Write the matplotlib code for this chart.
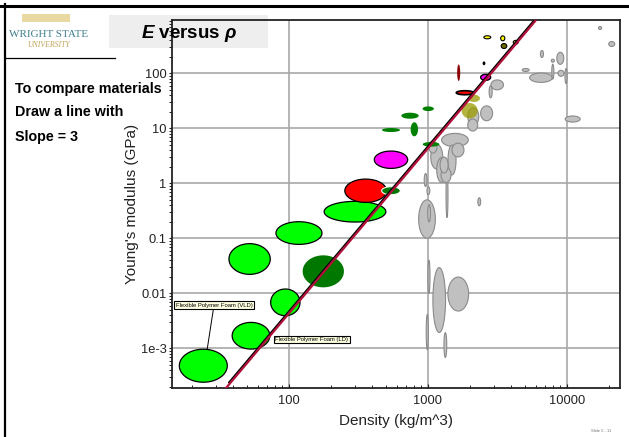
import numpy as np
import matplotlib
matplotlib.use("Agg")
import matplotlib.pyplot as plt
from matplotlib.patches import Rectangle

plt.rcParams['font.family'] = ['Liberation Sans', 'DejaVu Sans']
plt.rcParams['mathtext.fontset'] = 'custom'
plt.rcParams['mathtext.it'] = 'Liberation Sans:italic:bold'
plt.rcParams['mathtext.rm'] = 'Liberation Sans:bold'

# material bubbles: log10 density (kg/m^3), log10 modulus (GPa), span in decades
foam_x = [1.386, 1.729, 1.976, 1.719, 2.074, 2.477]
foam_y = [-3.316, -2.771, -2.164, -1.376, -0.904, -0.516]
foam_w = [0.345, 0.271, 0.211, 0.297, 0.331, 0.444]
foam_h = [0.60, 0.485, 0.485, 0.558, 0.412, 0.376]

rigid_foam = (2.249, -1.60, 0.297, 0.582)
elastomer_red = (2.554, -0.135, 0.30, 0.424)
polymer_mag = (2.736, 0.429, 0.24, 0.315)
cork_small = (2.736, -0.135, 0.134, 0.145)

wood_x = [2.736, 2.904, 3.024, 2.873, 3.004]
wood_y = [0.969, 0.982, 0.709, 1.229, 1.356]
wood_w = [0.13, 0.053, 0.12, 0.125, 0.081]
wood_h = [0.073, 0.255, 0.085, 0.109, 0.085]

darkred_bar = (3.223, 2.011, 0.022, 0.30)
red_thin = (3.268, 1.647, 0.125, 0.073)
mag_small = (3.417, 1.927, 0.072, 0.109)

olive_x = [3.333, 3.302]
olive_y = [1.545, 1.32]
olive_w = [0.086, 0.115]
olive_h = [0.133, 0.28]

yellow_x = [3.429, 3.54, 3.633]
yellow_y = [2.655, 2.636, 2.564]
yellow_w = [0.05, 0.03, 0.035]
yellow_h = [0.055, 0.09, 0.07]
dark_olive = (3.549, 2.496, 0.04, 0.09)
black_dot = (3.405, 2.182, 0.02, 0.07)

grey_x = [3.083, 3.22, 3.009, 2.997, 3.127, 2.995, 3.01, 2.985, 3.005, 3.139,
          3.371, 3.196, 3.065, 3.101, 3.175, 3.132, 3.218, 3.038, 3.118,
          3.328, 3.424, 3.324, 3.50, 3.453, 3.815, 3.705, 3.822, 3.954,
          3.90, 3.90, 3.959, 3.995, 4.043, 4.24, 4.324]
grey_y = [-2.122, -2.013, -1.698, -2.704, -2.94, -0.649, -0.545, 0.06, -0.135, -0.213,
          -0.335, 0.787, 0.484, 0.242, 0.424, 0.151, 0.605, 0.66, 0.333,
          1.211, 1.273, 1.06, 1.79, 1.665, 1.92, 2.06, 2.351, 2.273,
          2.229, 2.03, 2.0, 1.95, 1.169, 2.824, 2.533]
grey_w = [0.091, 0.149, 0.015, 0.015, 0.02, 0.12, 0.02, 0.02, 0.02, 0.014,
          0.02, 0.192, 0.086, 0.072, 0.058, 0.072, 0.086, 0.058, 0.058,
          0.079, 0.086, 0.072, 0.09, 0.022, 0.163, 0.05, 0.022, 0.05,
          0.022, 0.015, 0.043, 0.015, 0.108, 0.022, 0.043]
grey_h = [1.18, 0.618, 0.60, 0.64, 0.45, 0.697, 0.31, 0.236, 0.145, 0.82,
          0.145, 0.242, 0.45, 0.45, 0.545, 0.273, 0.25, 0.22, 0.29,
          0.327, 0.27, 0.218, 0.18, 0.22, 0.17, 0.055, 0.127, 0.22,
          0.055, 0.27, 0.109, 0.27, 0.11, 0.055, 0.09]

# E / rho^3 guide lines (log10 intercepts) and density ranges
guide_b_black, guide_b_red = -8.33, -8.37
guide_rho_black = [1.57, 3.80]
guide_rho_red = [1.549, 3.775]

vld_label = "Flexible Polymer Foam (VLD)"
ld_label = "Flexible Polymer Foam (LD)"

xticks = [100, 1000, 10000]
xticklabels = ["100", "1000", "10000"]
yticks = [1e-3, 0.01, 0.1, 1, 10, 100]
yticklabels = ["1e-3", "0.01", "0.1", "1", "10", "100"]


def bubble(ax, lx, ly, w, h, fc, ec='none', lw=0.8, alpha=1.0, z=2):
    t = np.linspace(0, 2 * np.pi, 90)
    ax.fill(10 ** (lx + w / 2 * np.cos(t)), 10 ** (ly + h / 2 * np.sin(t)),
            facecolor=fc, edgecolor=ec, lw=lw, alpha=alpha, zorder=z)


fig = plt.figure(figsize=(6.29, 4.37), dpi=100)

# title box behind everything
fig.patches.append(Rectangle((0.1733, 0.8902), 0.2528, 0.0755, transform=fig.transFigure,
                             facecolor='#eeeeee', edgecolor='none', zorder=-5))

ax = fig.add_axes([0.2734, 0.1121, 0.7123, 0.8421])
ax.set_zorder(1)
ax.set_xscale('log')
ax.set_yscale('log')
ax.set_xlim(14.47, 24180)
ax.set_ylim(1.9e-4, 931)
ax.set_axisbelow(True)
ax.grid(True, which='major', color='#a8a8a8', lw=1.2)
ax.patch.set_alpha(0)

for lx, ly, w, h in zip(grey_x, grey_y, grey_w, grey_h):
    bubble(ax, lx, ly, w, h, '#c0c0c0', '#8a8a8a', lw=0.8)

for lx, ly, w, h in zip(foam_x, foam_y, foam_w, foam_h):
    bubble(ax, lx, ly, w, h, '#00ff00', 'black', lw=0.9)
bubble(ax, *rigid_foam, '#007800')
bubble(ax, *elastomer_red, '#ff0000', 'black', lw=0.9)
bubble(ax, *polymer_mag, '#ff00ff', 'black', lw=0.9)
bubble(ax, *cork_small, '#007800', 'white', lw=0.8, z=3)
for lx, ly, w, h in zip(wood_x, wood_y, wood_w, wood_h):
    bubble(ax, lx, ly, w, h, '#008000')
bubble(ax, *darkred_bar, '#8b0000')
bubble(ax, *red_thin, '#ff0000', 'black', lw=1.2)
for lx, ly, w, h in zip(olive_x, olive_y, olive_w, olive_h):
    bubble(ax, lx, ly, w, h, '#9a9a00', alpha=0.75, z=3)
bubble(ax, *mag_small, '#ff00ff', 'black', lw=1.0)
for lx, ly, w, h in zip(yellow_x, yellow_y, yellow_w, yellow_h):
    bubble(ax, lx, ly, w, h, '#ffff00', 'black', lw=0.8)
bubble(ax, *dark_olive, '#6b6b00', 'black', lw=0.8)
bubble(ax, *black_dot, 'black')

# slope = 3 lines
rb = np.array(guide_rho_black)
rr = np.array(guide_rho_red)
ax.plot(10 ** rb, 10 ** (3 * rb + guide_b_black), color='black', lw=1.2, zorder=5)
ax.plot(10 ** rr, 10 ** (3 * rr + guide_b_red), color='#b0103a', lw=1.6, zorder=6)

box = dict(boxstyle='square,pad=0.25', fc='#ffffe1', ec='black', lw=0.8)
ax.annotate(vld_label, xy=(10 ** 1.414, 10 ** -3.013), xytext=(10 ** 1.463, 10 ** -2.213),
            fontsize=4.2, ha='center', va='center', bbox=box, zorder=8,
            arrowprops=dict(arrowstyle='-', color='black', lw=0.7, shrinkA=0, shrinkB=0))
ax.annotate(ld_label, xy=(10 ** 2.166, 10 ** -2.84), fontsize=4.2,
            ha='center', va='center', bbox=box, zorder=8)

ax.set_xticks(xticks, xticklabels)
ax.set_yticks(yticks, yticklabels)
ax.tick_params(axis='both', which='major', labelsize=9.3, colors='#222222', labelcolor='#222222')
ax.tick_params(axis='x', which='both', direction='in', length=3, pad=5)
ax.tick_params(axis='y', which='both', direction='out', length=2.5, pad=1.5)
ax.tick_params(which='minor', length=2)
ax.yaxis.set_minor_locator(matplotlib.ticker.LogLocator(subs=np.arange(2, 10)))
ax.yaxis.set_minor_formatter(matplotlib.ticker.NullFormatter())
ax.xaxis.set_minor_formatter(matplotlib.ticker.NullFormatter())
for s in ax.spines.values():
    s.set_linewidth(1.3)
    s.set_color('#222222')

ax.set_xlabel("Density (kg/m^3)", fontsize=11, color='#222222', labelpad=5)
ax.set_ylabel("Young's modulus (GPa)", fontsize=11, color='#222222', labelpad=1)

# slide decorations
fig.add_artist(plt.Line2D([0, 1], [0.9863, 0.9863], color='black', lw=2.2))
fig.add_artist(plt.Line2D([0.0079, 0.0079], [0, 0.99], color='black', lw=1.6))
fig.add_artist(plt.Line2D([0.008, 0.183], [0.8684, 0.8684], color='black', lw=0.9))
fig.patches.append(Rectangle((0.035, 0.95), 0.076, 0.017, transform=fig.transFigure,
                             facecolor='#e8d9a0', edgecolor='none'))
fig.text(0.078, 0.922, "WRIGHT STATE", fontsize=8, color='#3e7f8c', ha='center',
         va='center', family='Liberation Serif')
fig.text(0.078, 0.896, "UNIVERSITY", fontsize=5.6, color='#c2a55a', ha='center',
         va='center', style='italic', family='Liberation Serif')

fig.text(0.3005, 0.924, r"$E$ versus $\rho$", fontsize=13.5, fontweight='bold',
         ha='center', va='center', zorder=10)

fig.text(0.024, 0.797, "To compare materials", fontsize=10.3, fontweight='bold', va='center')
fig.text(0.024, 0.744, "Draw a line with", fontsize=10.3, fontweight='bold', va='center')
fig.text(0.024, 0.686, "Slope = 3", fontsize=10.3, fontweight='bold', va='center')

fig.text(0.955, 0.012, "Slide 5 - 11", fontsize=3, color='#777777', ha='center')

fig.savefig("out.png", dpi=100)
